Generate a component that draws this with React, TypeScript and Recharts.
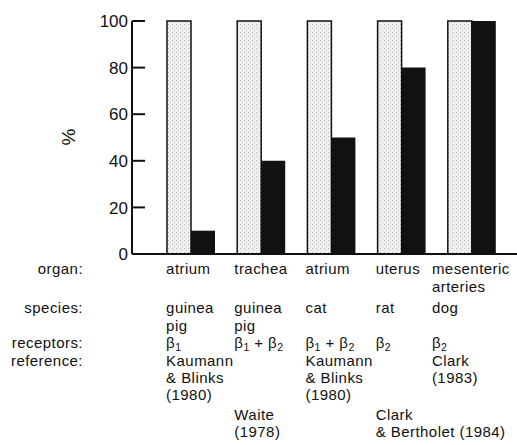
import React from "react";
import { BarChart, Bar, XAxis, YAxis } from "recharts";

// ---- data ----
const organs: string[][] = [["atrium"], ["trachea"], ["atrium"], ["uterus"], ["mesenteric", "arteries"]];
const species: string[][] = [["guinea", "pig"], ["guinea", "pig"], ["cat"], ["rat"], ["dog"]];
const receptorSubtypes: string[][] = [["1"], ["1", "2"], ["1", "2"], ["2"], ["2"]];
const references: string[][] = [
  ["Kaumann", "& Blinks", "(1980)"],
  ["Waite", "(1978)"],
  ["Kaumann", "& Blinks", "(1980)"],
  ["Clark", "& Bertholet (1984)"],
  ["Clark", "(1983)"],
];
const referenceLevel: string[] = ["upper", "lower", "upper", "lower", "upper"];
const controlValues: number[] = [100, 100, 100, 100, 100];
const testValues: number[] = [10, 40, 50, 80, 100];
const yTicks: number[] = [0, 20, 40, 60, 80, 100];
const rowLabels: string[] = ["organ:", "species:", "receptors:", "reference:"];

const data = organs.map((o, i) => ({
  key: String(i),
  control: controlValues[i],
  test: testValues[i],
}));

// ---- layout ----
const FONT = "'Liberation Sans', Arial, Helvetica, sans-serif";
const FS = 15;
const LS = 0.45;
const TEXT_OFFSET = [-25, -27, -26, -26, -40];
const ROW_LABEL_X = 83;
const ORGAN_Y = [20, 38];
const SPECIES_Y = [59, 77];
const RECEPTOR_Y = 94;
const REF_UPPER_Y = [112, 129, 146];
const REF_LOWER_Y = [166, 183];
const INK = "#111";

function Receptors({ x, y, subs }: { x: number; y: number; subs: string[] }) {
  return (
    <text x={x} y={y} fontSize={FS} letterSpacing={LS} fontFamily={FONT} fill={INK}>
      {subs.map((s, k) => (
        <React.Fragment key={k}>
          <tspan dy={k === 0 ? 0 : -3}>{k === 0 ? "β" : "\u00a0+\u00a0β"}</tspan>
          <tspan fontSize={10.5} dy={3}>{s}</tspan>
        </React.Fragment>
      ))}
    </text>
  );
}

function CategoryTick(props: any) {
  const { x, y, payload } = props;
  const i: number = payload.index ?? props.index;
  const tx = x + TEXT_OFFSET[i];
  const refY = referenceLevel[i] === "upper" ? REF_UPPER_Y : REF_LOWER_Y;
  const t = (s: string, yy: number, key: string, anchor = "start", xx = tx) => (
    <text key={key} x={xx} y={yy} fontSize={FS} letterSpacing={LS} fontFamily={FONT} fill={INK} textAnchor={anchor}>
      {s}
    </text>
  );
  return (
    <g>
      {i === 0 &&
        [ORGAN_Y[0], SPECIES_Y[0], RECEPTOR_Y, REF_UPPER_Y[0]].map((dy, k) =>
          t(rowLabels[k], y + dy, "rl" + k, "end", ROW_LABEL_X)
        )}
      {organs[i].map((s, k) => t(s, y + ORGAN_Y[k], "o" + k))}
      {species[i].map((s, k) => t(s, y + SPECIES_Y[k], "s" + k))}
      <Receptors x={tx} y={y + RECEPTOR_Y} subs={receptorSubtypes[i]} />
      {references[i].map((s, k) => t(s, y + refY[k], "r" + k))}
    </g>
  );
}

function ValueTick(props: any) {
  const { x, y, payload } = props;
  const axisX = x + 4;
  return (
    <g>
      <line x1={axisX} x2={axisX + 13} y1={y} y2={y} stroke={INK} strokeWidth={2} />
      <text x={x} y={y} dy="0.36em" textAnchor="end" fontSize={17} fontFamily={FONT} fill={INK}>
        {payload.value}
      </text>
    </g>
  );
}

function PercentLabel() {
  return (
    <text x={68} y={137} transform="rotate(-90 68 137)" textAnchor="middle" dy="0.36em" fontSize={19} fontFamily={FONT} fill={INK}>
      %
    </text>
  );
}

export default function App() {
  return (
    <div style={{ position: "absolute", left: 0, top: 0, width: 517, height: 445, background: "#fff" }}>
      <BarChart
        width={517}
        height={445}
        data={data}
        margin={{ top: 21, right: 0, bottom: 0, left: 0 }}
        barGap={0}
        barSize={24}
      >
        <defs>
          <pattern id="stipple" width="4" height="4" patternUnits="userSpaceOnUse">
            <rect width="4" height="4" fill="#f1f1f1" />
            <rect x="0" y="0" width="1" height="1" fill="#b5b5b5" />
            <rect x="2" y="2" width="1" height="1" fill="#cfcfcf" />
          </pattern>
        </defs>
        <XAxis
          dataKey="key"
          type="category"
          height={191}
          padding={{ left: 24, right: 10 }}
          axisLine={{ stroke: INK, strokeWidth: 2 }}
          tickLine={false}
          tickSize={0}
          tickMargin={0}
          interval={0}
          tick={<CategoryTick />}
        />
        <YAxis
          type="number"
          domain={[0, 100]}
          ticks={yTicks}
          width={132}
          axisLine={{ stroke: INK, strokeWidth: 2 }}
          tickLine={false}
          tickSize={0}
          tickMargin={4}
          tick={<ValueTick />}
          label={{ content: <PercentLabel /> }}
        />
        <Bar dataKey="control" fill="url(#stipple)" stroke={INK} strokeWidth={1.5} isAnimationActive={false} />
        <Bar dataKey="test" fill={INK} isAnimationActive={false} />
      </BarChart>
    </div>
  );
}
